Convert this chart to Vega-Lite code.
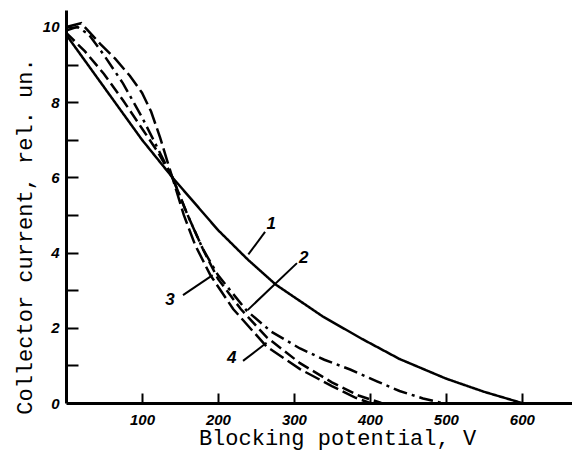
{
  "$schema": "https://vega.github.io/schema/vega-lite/v6.json",
  "width": 506,
  "height": 393,
  "autosize": "none",
  "padding": {"left": 66, "top": 10, "right": 0, "bottom": 61},
  "background": "white",
  "config": {"view": {"stroke": null}},
  "resolve": {"axis": {"x": "independent", "y": "independent"}},
  "datasets": {
    "curves": [
      {"s": "1", "x": 0, "y": 9.8}, {"s": "1", "x": 25, "y": 9.1}, {"s": "1", "x": 50, "y": 8.4}, {"s": "1", "x": 75, "y": 7.7}, {"s": "1", "x": 100, "y": 7.0}, {"s": "1", "x": 140, "y": 6.0}, {"s": "1", "x": 170, "y": 5.3}, {"s": "1", "x": 200, "y": 4.6}, {"s": "1", "x": 240, "y": 3.8}, {"s": "1", "x": 276, "y": 3.15}, {"s": "1", "x": 338, "y": 2.3}, {"s": "1", "x": 390, "y": 1.7}, {"s": "1", "x": 439, "y": 1.17}, {"s": "1", "x": 500, "y": 0.65}, {"s": "1", "x": 550, "y": 0.3}, {"s": "1", "x": 600, "y": 0},
      {"s": "2", "x": 0, "y": 9.9}, {"s": "2", "x": 15, "y": 10.0}, {"s": "2", "x": 30, "y": 9.8}, {"s": "2", "x": 50, "y": 9.25}, {"s": "2", "x": 75, "y": 8.5}, {"s": "2", "x": 100, "y": 7.6}, {"s": "2", "x": 120, "y": 6.8}, {"s": "2", "x": 140, "y": 6.0}, {"s": "2", "x": 160, "y": 5.0}, {"s": "2", "x": 180, "y": 4.1}, {"s": "2", "x": 200, "y": 3.4}, {"s": "2", "x": 238, "y": 2.45}, {"s": "2", "x": 270, "y": 1.9}, {"s": "2", "x": 308, "y": 1.45}, {"s": "2", "x": 340, "y": 1.15}, {"s": "2", "x": 374, "y": 0.89}, {"s": "2", "x": 410, "y": 0.57}, {"s": "2", "x": 439, "y": 0.32}, {"s": "2", "x": 470, "y": 0.12}, {"s": "2", "x": 495, "y": 0},
      {"s": "3", "x": 0, "y": 9.85}, {"s": "3", "x": 25, "y": 9.35}, {"s": "3", "x": 50, "y": 8.75}, {"s": "3", "x": 75, "y": 8.05}, {"s": "3", "x": 100, "y": 7.3}, {"s": "3", "x": 120, "y": 6.7}, {"s": "3", "x": 140, "y": 6.0}, {"s": "3", "x": 160, "y": 5.0}, {"s": "3", "x": 180, "y": 4.1}, {"s": "3", "x": 200, "y": 3.3}, {"s": "3", "x": 230, "y": 2.5}, {"s": "3", "x": 264, "y": 1.75}, {"s": "3", "x": 308, "y": 1.06}, {"s": "3", "x": 350, "y": 0.55}, {"s": "3", "x": 385, "y": 0.2}, {"s": "3", "x": 415, "y": 0},
      {"s": "4", "x": 0, "y": 10.0}, {"s": "4", "x": 20, "y": 10.1}, {"s": "4", "x": 45, "y": 9.55}, {"s": "4", "x": 65, "y": 9.15}, {"s": "4", "x": 84, "y": 8.7}, {"s": "4", "x": 100, "y": 8.25}, {"s": "4", "x": 112, "y": 7.75}, {"s": "4", "x": 124, "y": 7.05}, {"s": "4", "x": 133, "y": 6.45}, {"s": "4", "x": 140, "y": 6.0}, {"s": "4", "x": 155, "y": 5.0}, {"s": "4", "x": 170, "y": 4.2}, {"s": "4", "x": 190, "y": 3.4}, {"s": "4", "x": 220, "y": 2.5}, {"s": "4", "x": 264, "y": 1.5}, {"s": "4", "x": 308, "y": 0.9}, {"s": "4", "x": 350, "y": 0.45}, {"s": "4", "x": 380, "y": 0.15}, {"s": "4", "x": 400, "y": 0}
    ],
    "labels": [
      {"label": "1", "x": 240, "y": 3.95, "x2": 262, "y2": 4.55, "tx": 270, "ty": 4.75},
      {"label": "2", "x": 239, "y": 2.47, "x2": 304, "y2": 3.72, "tx": 313, "ty": 3.85},
      {"label": "3", "x": 154, "y": 2.87, "x2": 193, "y2": 3.4, "tx": 137, "ty": 2.74},
      {"label": "4", "x": 233, "y": 1.12, "x2": 264, "y2": 1.6, "tx": 218, "ty": 1.2}
    ]
  },
  "layer": [
    {
      "data": {"name": "curves"},
      "mark": {"type": "line", "strokeWidth": 2.5, "color": "black", "clip": true},
      "encoding": {
        "x": {
          "field": "x", "type": "quantitative",
          "scale": {"domain": [0, 666], "nice": false},
          "axis": {
            "values": [100, 200, 300, 400, 500, 600],
            "title": "Blocking potential, V",
            "titleFont": "Liberation Mono", "titleFontSize": 22, "titleFontWeight": "normal", "titleColor": "black",
            "titlePadding": 0, "titleX": 271,
            "labelFont": "Liberation Sans", "labelFontSize": 15, "labelFontWeight": "bold", "labelFontStyle": "italic", "labelColor": "black",
            "labelPadding": 9,
            "ticks": false,
            "domainWidth": 3, "domainColor": "black", "domainOpacity": 1, "grid": false
          }
        },
        "y": {
          "field": "y", "type": "quantitative",
          "scale": {"domain": [0, 10.45], "nice": false},
          "axis": {
            "values": [0, 2, 4, 6, 8, 10],
            "title": "Collector current, rel. un.",
            "titleFont": "Liberation Mono", "titleFontSize": 22, "titleFontWeight": "normal", "titleColor": "black",
            "titlePadding": 6, "titleY": 226,
            "labelFont": "Liberation Sans", "labelFontSize": 15, "labelFontWeight": "bold", "labelFontStyle": "italic", "labelColor": "black",
            "labelPadding": 7,
            "ticks": false,
            "domainWidth": 3, "domainColor": "black", "domainOpacity": 1, "grid": false
          }
        },
        "detail": {"field": "s"},
        "strokeDash": {
          "field": "s", "type": "nominal",
          "scale": {"domain": ["1", "2", "3", "4"], "range": [[1, 0], [14, 5, 3, 5], [12, 5], [16, 5]]},
          "legend": null
        }
      }
    },
    {
      "data": {"name": "labels"},
      "mark": {"type": "rule", "strokeWidth": 2, "color": "black"},
      "encoding": {
        "x": {
          "field": "x", "type": "quantitative",
          "axis": {
            "orient": "top", "offset": -393,
            "values": [100, 200, 300, 400, 500, 600],
            "title": null, "labels": false, "domain": false, "grid": false,
            "ticks": true, "tickSize": 10, "tickWidth": 2, "tickColor": "black", "tickOpacity": 1
          }
        },
        "y": {
          "field": "y", "type": "quantitative",
          "axis": {
            "orient": "right", "offset": -506,
            "values": [1, 2, 3, 4, 5, 6, 7, 8, 9, 10],
            "title": null, "labels": false, "domain": false, "grid": false,
            "ticks": true, "tickSize": 12, "tickWidth": 2, "tickColor": "black", "tickOpacity": 1
          }
        },
        "x2": {"field": "x2"},
        "y2": {"field": "y2"}
      }
    },
    {
      "data": {"name": "labels"},
      "mark": {"type": "text", "font": "Liberation Sans", "fontSize": 17, "fontWeight": "bold", "fontStyle": "italic", "color": "black"},
      "encoding": {
        "x": {"field": "tx", "type": "quantitative", "axis": null},
        "y": {"field": "ty", "type": "quantitative", "axis": null},
        "text": {"field": "label"}
      }
    }
  ]
}
